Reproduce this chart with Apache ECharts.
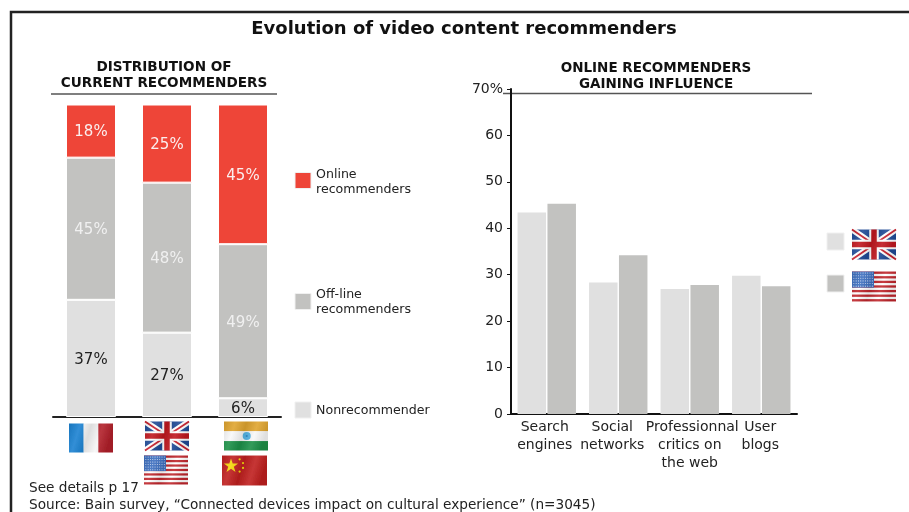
<!DOCTYPE html>
<html><head><meta charset="utf-8">
<style>html,body{margin:0;padding:0;background:#fff}#c{width:909px;height:512px}</style>
<script src="https://cdn.jsdelivr.net/npm/echarts@6/dist/echarts.min.js"></script></head>
<body><div id="c"></div>
<script>
const chartTitle = 'Evolution of video content recommenders';
const leftTitle = 'DISTRIBUTION OF\nCURRENT RECOMMENDERS';
const rightTitle = 'ONLINE RECOMMENDERS\nGAINING INFLUENCE';
const footer1 = 'See details p 17';
const footer2 = 'Source: Bain survey, \u201cConnected devices impact on cultural experience\u201d (n=3045)';

const regions = ['France', 'UK / US', 'India / China'];
const nonrecommender = [37.5, 27, 6];
const offline = [45.5, 48, 49.3];
const online = [17, 25, 44.7];
const nonrecommenderLabels = ['37%', '27%', '6%'];
const offlineLabels = ['45%', '48%', '49%'];
const onlineLabels = ['18%', '25%', '45%'];
const legendNames = ['Online\nrecommenders', 'Off-line\nrecommenders', 'Nonrecommender'];

const sources = ['Search\nengines', 'Social\nnetworks', 'Professionnal\ncritics on\nthe web', 'User\nblogs'];
const ukValues = [43.4, 28.3, 26.9, 29.8];
const usValues = [45.3, 34.2, 27.8, 27.5];

const RED = '#ee4538', GREY = '#c2c2c0', LIGHT = '#e0e0e0', INK = '#222222';
const FONT = '"DejaVu Sans", Verdana, sans-serif';

/* ---- decorative flags ---- */
function flagSvg(inner) {
  const s = '<svg xmlns="http://www.w3.org/2000/svg" width="180" height="130" viewBox="-6 -6 132 92">' +
    '<defs><filter id="w" x="-5%" y="-5%" width="110%" height="110%"><feTurbulence type="fractalNoise" baseFrequency="0.03 0.012" numOctaves="1" seed="4"/>' +
    '<feDisplacementMap in="SourceGraphic" scale="5" xChannelSelector="G" yChannelSelector="R"/></filter>' +
    '<linearGradient id="s" x1="0" x2="1" y1="0" y2="0.2"><stop offset="0" stop-color="#000" stop-opacity=".1"/><stop offset=".25" stop-color="#fff" stop-opacity=".1"/><stop offset=".5" stop-color="#000" stop-opacity=".1"/><stop offset=".75" stop-color="#fff" stop-opacity=".1"/><stop offset="1" stop-color="#000" stop-opacity=".1"/></linearGradient></defs>' +
    '<g filter="url(#w)">' + inner + '<rect width="120" height="80" fill="url(#s)"/></g></svg>';
  return 'data:image/svg+xml;charset=utf-8,' + encodeURIComponent(s);
}
const ukInner = '<rect width="120" height="80" fill="#1f4a96"/><path d="M0 0L120 80M120 0L0 80" stroke="#fff" stroke-width="16"/><path d="M0 0L120 80M120 0L0 80" stroke="#c8202c" stroke-width="5"/><path d="M60 0V80M0 40H120" stroke="#fff" stroke-width="26"/><path d="M60 0V80M0 40H120" stroke="#c0181f" stroke-width="15"/>';
const franceInner = '<rect width="40" height="80" fill="#1b82d2"/><rect x="40" width="40" height="80" fill="#f6f6f6"/><rect x="80" width="40" height="80" fill="#b2202a"/>';
let usStripes = '<rect width="120" height="80" fill="#fff"/>';
for (let i = 0; i < 7; i++) usStripes += '<rect y="' + (i * 12.3) + '" width="120" height="6.15" fill="#c0272d"/>';
usStripes += '<rect width="60" height="43" fill="#3d6fc0"/>';
for (let r = 0; r < 6; r++) for (let k = 0; k < 9; k++) usStripes += '<circle cx="' + (5 + k * 6.3) + '" cy="' + (4 + r * 7) + '" r="1.4" fill="#dfe8f8"/>';
const indiaInner = '<rect width="120" height="27" fill="#e0a52f"/><rect y="27" width="120" height="27" fill="#f8f8f8"/><rect y="54" width="120" height="26" fill="#1d9048"/><circle cx="62" cy="40" r="11" fill="#54b4e4"/><circle cx="62" cy="40" r="3" fill="#2f86c4"/>';
const chinaInner = '<rect width="120" height="80" fill="#c0201f"/><path d="M24 8l4.500 13.500H43L31.500 30l4.500 14L24 35.500 12 44l4.500-14L5 21.500h14.500z" fill="#f5d90a"/><g fill="#f5d90a"><circle cx="47" cy="10" r="3"/><circle cx="56" cy="20" r="3"/><circle cx="56" cy="33" r="3"/><circle cx="47" cy="43" r="3"/></g>';

function flag(src, x, y, w, h) {
  return { type: 'image', silent: true, style: { image: src, x: x - w * 6 / 120, y: y - h * 6 / 80, width: w * 132 / 120, height: h * 92 / 80 } };
}
function text(t, x, y, opts) {
  return { type: 'text', silent: true, x: x, y: y, style: Object.assign({ text: t, fill: INK, font: '12.6px ' + FONT, textAlign: 'left', textVerticalAlign: 'middle' }, opts || {}) };
}
function box(color, x, y, s) {
  return { type: 'rect', silent: true, shape: { x: x, y: y, width: s, height: s }, style: { fill: color, stroke: '#f0f0f0', lineWidth: 1 } };
}
function rule(x1, x2, y, color) {
  return { type: 'line', silent: true, shape: { x1: x1, y1: y, x2: x2, y2: y }, style: { stroke: color, lineWidth: 1.5 } };
}

const labelShift = [4, 12, 0, 2];
const rich = {};
sources.forEach((_, i) => {
  rich['s' + i] = { fontFamily: FONT, fontSize: 14, color: INK, lineHeight: 18, padding: [0, labelShift[i], 0, 0] };
});
rich.p = { fontFamily: FONT, fontSize: 14, color: INK, lineHeight: 18, padding: [0, 0, 0, 5] };

function stack(name, values, labels, color, labelColor) {
  return {
    name: name, type: 'bar', stack: 'a', xAxisIndex: 0, yAxisIndex: 0, barWidth: 50,
    data: values, itemStyle: { color: color, borderColor: '#ffffff', borderWidth: 1 },
    label: { show: true, position: 'inside', offset: [0, 1.5], color: labelColor, fontFamily: FONT, fontSize: 15,
      formatter: p => labels[p.dataIndex] }
  };
}

const chart = echarts.init(document.getElementById('c'), null, { renderer: 'canvas' });
chart.setOption({
  animation: false,
  backgroundColor: '#ffffff',
  grid: [
    { left: 53, top: 104.5, width: 228, height: 312.5 },
    { left: 511, top: 89, width: 286, height: 325 }
  ],
  xAxis: [
    { type: 'category', gridIndex: 0, data: regions, axisTick: { show: false }, axisLabel: { show: false },
      axisLine: { lineStyle: { color: '#222', width: 2 } } },
    { type: 'category', gridIndex: 1, data: sources, axisTick: { show: false },
      axisLine: { lineStyle: { color: '#111', width: 2 } },
      axisLabel: { interval: 0, margin: 4, hideOverlap: false,
        formatter: (v) => {
          const i = sources.indexOf(v);
          if (i === 2) return v.split('\n').map((l, k) => k === 0 ? '{p|' + l + '}' : '{s2|' + l + '}').join('\n');
          return v.split('\n').map(l => '{s' + i + '|' + l + '}').join('\n');
        }, rich: rich } }
  ],
  yAxis: [
    { type: 'value', gridIndex: 0, min: 0, max: 100, show: false, splitLine: { show: false } },
    { type: 'value', gridIndex: 1, min: 0, max: 70, interval: 10,
      splitLine: { show: false },
      axisLine: { show: true, lineStyle: { color: '#111', width: 2 } },
      axisTick: { show: true, length: 4, lineStyle: { color: '#111', width: 1 } },
      axisLabel: { margin: 8, color: INK, fontFamily: FONT, fontSize: 14, padding: [2, 0, 0, 0],
        formatter: v => v === 70 ? '70%' : String(v) } }
  ],
  series: [
    stack('Nonrecommender', nonrecommender, nonrecommenderLabels, LIGHT, '#222222'),
    stack('Off-line recommenders', offline, offlineLabels, GREY, '#f0f0f0'),
    stack('Online recommenders', online, onlineLabels, RED, '#fbeeee'),
    { name: 'UK', type: 'bar', xAxisIndex: 1, yAxisIndex: 1, barWidth: 28.5, barGap: '5%', data: ukValues, itemStyle: { color: LIGHT } },
    { name: 'US', type: 'bar', xAxisIndex: 1, yAxisIndex: 1, barWidth: 28.5, barGap: '5%', data: usValues, itemStyle: { color: GREY } }
  ],
  graphic: { elements: [
    { type: 'polyline', silent: true, shape: { points: [[11, 512], [11, 12], [909, 12]] }, style: { stroke: '#222', lineWidth: 2.5, fill: 'none' } },
    text(chartTitle, 464, 29, { font: 'bold 18px ' + FONT, textAlign: 'center', fill: '#111' }),
    text(leftTitle, 164, 75.5, { font: 'bold 13.6px ' + FONT, textAlign: 'center', fill: '#111', lineHeight: 16 }),
    text(rightTitle, 656, 76, { font: 'bold 13.5px ' + FONT, textAlign: 'center', fill: '#111', lineHeight: 16 }),
    rule(51, 277, 94, '#555'),
    rule(503, 812, 93.5, '#555'),
    box(RED, 295, 172.5, 16), text(legendNames[0], 316, 182, { lineHeight: 15 }),
    box(GREY, 295, 293.5, 16), text(legendNames[1], 316, 302.5, { lineHeight: 15 }),
    box(LIGHT, 295, 402, 16), text(legendNames[2], 316, 411),
    box(LIGHT, 827, 233, 17), box(GREY, 827, 275, 17),
    flag(flagSvg(ukInner), 852, 229, 44, 31),
    flag(flagSvg(usStripes), 852, 271, 44, 31),
    flag(flagSvg(franceInner), 69, 423, 44, 30),
    flag(flagSvg(ukInner), 145, 421, 44, 30),
    flag(flagSvg(usStripes), 144, 455, 44, 30),
    flag(flagSvg(indiaInner), 224, 421, 44, 30),
    flag(flagSvg(chinaInner), 222, 455, 45, 31),
    text(footer1, 29, 488.5, { font: '13.65px ' + FONT }),
    text(footer2, 29, 505.5, { font: '13.65px ' + FONT })
  ] }
});
</script></body></html>
